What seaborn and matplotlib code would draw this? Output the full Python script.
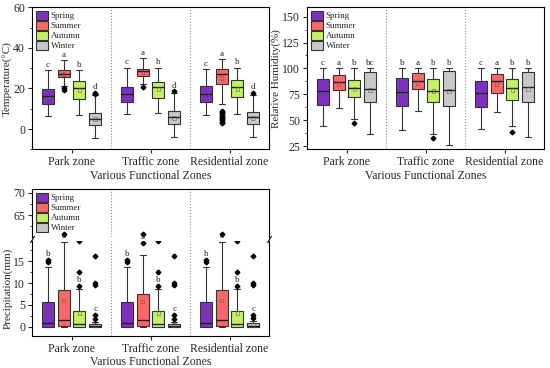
import itertools
import pandas as pd
import matplotlib
matplotlib.use('Agg')
import matplotlib.pyplot as plt
import seaborn as sns
from matplotlib.ticker import MultipleLocator, FixedLocator

# categories
zones = ['Park zone', 'Traffic zone', 'Residential zone']
seasons = ['Spring', 'Summer', 'Autumn', 'Winter']
colors = ['#8030c0', '#ff6666', '#c4f064', '#c8c8c8']

# order of every list below: park(sp,su,au,wi), traffic(...), residential(...)
# temperature (C)
temp_lo = [6.2, 21.3, 7.0, -4.3, 7.5, 22.0, 7.9, -3.9, 6.9, 12.5, 7.5, -3.9]
temp_q1 = [12.5, 25.4, 14.8, 1.8, 13.1, 26.2, 15.1, 2.3, 13.1, 22.0, 15.7, 2.6]
temp_med = [16.1, 27.3, 20.2, 4.9, 17.2, 28.4, 20.7, 5.9, 17.2, 27.2, 20.5, 5.7]
temp_q3 = [19.8, 28.9, 23.6, 7.9, 20.7, 29.8, 23.3, 8.7, 21.3, 29.7, 24.1, 8.4]
temp_hi = [28.9, 33.9, 28.9, 16.9, 30.0, 34.9, 30.0, 17.7, 29.5, 34.4, 30.0, 17.0]
temp_fliers = [[], [20.0, 19.3], [], [17.4, 18.0],
               [], [20.5], [], [18.5],
               [], [3.0, 3.6, 4.2, 4.8, 5.4, 6.0, 6.6, 7.2, 7.8, 8.4, 9.0], [], [17.8]]
temp_mean = [16.5, 27.0, 19.3, 5.0, 17.0, 28.0, 19.8, 5.5, 17.0, 25.0, 19.8, 5.5]
temp_letters = ['c', 'a', 'b', 'd', 'c', 'a', 'b', 'd', 'c', 'a', 'b', 'd']

# relative humidity (%)
hum_lo = [44.2, 62.3, 51.6, 37.1, 41.0, 58.7, 37.0, 26.1, 42.0, 58.0, 44.2, 33.9]
hum_q1 = [65.2, 79.0, 72.6, 67.4, 63.5, 80.0, 67.7, 63.5, 62.9, 76.8, 69.7, 67.7]
hum_med = [78.4, 87.1, 81.6, 79.7, 77.4, 87.7, 78.0, 79.0, 76.5, 87.7, 81.6, 81.9]
hum_q3 = [89.4, 93.9, 88.7, 96.5, 91.0, 95.2, 89.7, 97.4, 87.7, 94.2, 89.7, 96.8]
hum_hi = [100, 100, 100, 100, 100, 100, 100, 100, 100, 100, 100, 100]
hum_fliers = [[], [], [47.4], [], [], [], [33.2], [], [], [], [39.0], []]
hum_mean = [77, 85, 80, 79, 77, 86, 78, 78, 75, 85, 79, 80]
hum_letters = ['c', 'a', 'b', 'bc', 'b', 'a', 'b', 'b', 'c', 'a', 'b', 'b']

# precipitation (mm)
prec_lo = [0.0, 0.0, 0.0, 0.0, 0.0, 0.0, 0.0, 0.0, 0.0, 0.0, 0.0, 0.0]
prec_q1 = [0.1, 0.2, 0.05, 0.05, 0.1, 0.2, 0.05, 0.05, 0.1, 0.2, 0.05, 0.05]
prec_med = [0.8, 1.6, 0.7, 0.2, 0.8, 1.5, 0.7, 0.2, 0.8, 1.6, 0.7, 0.2]
prec_q3 = [5.7, 8.4, 3.7, 0.7, 5.7, 7.4, 3.7, 0.7, 5.7, 8.4, 3.7, 0.8]
prec_hi = [13.6, 19.3, 8.6, 1.2, 13.6, 16.3, 8.6, 1.2, 13.6, 19.3, 8.6, 1.3]
prec_fliers = [[14.8, 15.2], [60.8], [9.3, 12.6, 19.5], [1.8, 2.7, 9.5, 10.0, 16.1],
               [14.8, 15.2], [19.2, 60.8], [9.3, 12.6, 19.5], [1.8, 2.7, 9.5, 10.0, 16.1],
               [14.8, 15.2], [60.8], [9.3, 12.6, 19.5], [2.0, 2.8, 9.5, 10.0, 16.1]]
prec_mean = [3.6, 6.0, 3.2, 0.5, 3.6, 5.8, 3.2, 0.5, 3.6, 6.0, 3.2, 0.5]
prec_letters = ['b', 'a', 'b', 'c', 'b', 'a', 'b', 'c', 'b', 'a', 'b', 'c']


def fake_sample(lo, q1, med, q3, hi, fliers):
    # only the summary stats are known, so build a sample that has exactly those
    # quartiles / whiskers / outliers (4k+1 points -> quartiles land on samples)
    low = sorted(f for f in fliers if f < q1) + [lo]
    high = [hi] + sorted(f for f in fliers if f > q3)
    k = max(len(low), len(high))
    return (low + [q1] * (k + 1 - len(low)) + [med] * k + [q3] * k
            + [q3] * (k - len(high)) + high)


def long_table(lo, q1, med, q3, hi, fliers):
    rows = []
    for i, (z, s) in enumerate(itertools.product(zones, seasons)):
        for v in fake_sample(lo[i], q1[i], med[i], q3[i], hi[i], fliers[i]):
            rows.append((z, s, v))
    return pd.DataFrame(rows, columns=['zone', 'season', 'value'])


def mean_table(means):
    rows = [(z, s, means[i]) for i, (z, s) in enumerate(itertools.product(zones, seasons))]
    return pd.DataFrame(rows, columns=['zone', 'season', 'value'])


def label_top(hi, fliers, gap=3.0):
    # letter goes over the whisker and the outliers sitting right above it
    top = hi
    for f in sorted(f for f in fliers if f > hi):
        if f - top <= gap:
            top = f
    return top


def draw_boxes(ax, df, legend):
    sns.boxplot(data=df, x='zone', y='value', hue='season', order=zones,
                hue_order=seasons, palette=colors, saturation=1, width=0.8, gap=0.25,
                linewidth=0.8, linecolor='#333333', fliersize=2.4,
                flierprops=dict(marker='D', markerfacecolor='black', markeredgecolor='black'),
                medianprops=dict(color='#1e1e1e', linewidth=1.0),
                legend=legend, ax=ax)


def draw_means(ax, means):
    n0 = len(ax.collections)
    sns.stripplot(data=mean_table(means), x='zone', y='value', hue='season',
                  order=zones, hue_order=seasons, dodge=True, jitter=False,
                  marker='s', size=2.6, palette=['#555555'] * 4, legend=False, ax=ax)
    for c in ax.collections[n0:]:
        c.set_facecolor('none')
        c.set_edgecolor('#555555')
        c.set_linewidth(0.5)
        c.set_alpha(0.7)


def draw_letters(ax, hi, fliers, letters):
    for i, letter in enumerate(letters):
        x = i // 4 - 0.3 + 0.2 * (i % 4)
        ax.annotate(letter, (x, label_top(hi[i], fliers[i])), xytext=(0, 1.2),
                    textcoords='offset points', ha='center', va='bottom',
                    fontsize=6.5, color='#222222', annotation_clip=False)


def style_axis(ax):
    for sp in ax.spines.values():
        sp.set_color('black')
        sp.set_linewidth(0.8)
    ax.tick_params(which='major', direction='out', length=3, width=0.8, labelsize=8.5, pad=2)
    ax.tick_params(which='minor', direction='out', length=1.8, width=0.6)
    ax.set_xlim(-0.5, 2.5)
    for xv in [0.5, 1.5]:
        ax.axvline(xv, color='#888888', ls=':', lw=0.8, zorder=0)


def style_legend(ax):
    sns.move_legend(ax, 'upper left', title=None, frameon=False, fontsize=6.5,
                    handlelength=1.35, handleheight=1.15, labelspacing=0.05,
                    handletextpad=0.3, borderpad=0.1, borderaxespad=0.3)


sns.set_style('ticks')
plt.rcParams['font.family'] = ['Liberation Serif', 'DejaVu Serif']

fig = plt.figure(figsize=(5.5, 3.68), dpi=100)

# temperature panel
ax_t = fig.add_axes([32 / 550, 1 - 149.3 / 368, 237 / 550, 142 / 368])
draw_boxes(ax_t, long_table(temp_lo, temp_q1, temp_med, temp_q3, temp_hi, temp_fliers), True)
draw_means(ax_t, temp_mean)
draw_letters(ax_t, temp_hi, temp_fliers, temp_letters)
style_axis(ax_t)
style_legend(ax_t)
ax_t.set_ylim(-10, 60)
ax_t.yaxis.set_major_locator(MultipleLocator(20))
ax_t.yaxis.set_minor_locator(MultipleLocator(10))
ax_t.set_ylabel('Temperature(°C)', fontsize=8, labelpad=0.5)
ax_t.set_xlabel('Various Functional Zones', fontsize=8.5, labelpad=1)

# humidity panel
ax_h = fig.add_axes([307 / 550, 1 - 149.3 / 368, 237 / 550, 142 / 368])
draw_boxes(ax_h, long_table(hum_lo, hum_q1, hum_med, hum_q3, hum_hi, hum_fliers), True)
draw_means(ax_h, hum_mean)
draw_letters(ax_h, hum_hi, hum_fliers, hum_letters)
style_axis(ax_h)
style_legend(ax_h)
ax_h.set_ylim(22, 159)
ax_h.yaxis.set_major_locator(MultipleLocator(25))
ax_h.yaxis.set_minor_locator(MultipleLocator(12.5))
ax_h.set_ylabel('Relative Humidity(%)', fontsize=8, labelpad=0.5)
ax_h.set_xlabel('Various Functional Zones', fontsize=8.5, labelpad=1)

# precipitation panel, broken y axis (upper part only holds the big outliers)
prec_df = long_table(prec_lo, prec_q1, prec_med, prec_q3, prec_hi, prec_fliers)
ax_pt = fig.add_axes([32 / 550, 1 - 237.5 / 368, 237 / 550, 48.2 / 368])
ax_pb = fig.add_axes([32 / 550, 1 - 336 / 368, 237 / 550, 95 / 368])

draw_boxes(ax_pt, prec_df, True)
style_axis(ax_pt)
style_legend(ax_pt)
ax_pt.set_ylim(59.98, 70.76)
ax_pt.yaxis.set_major_locator(FixedLocator([65, 70]))
ax_pt.yaxis.set_minor_locator(FixedLocator([62.5, 67.5]))
ax_pt.spines['bottom'].set_visible(False)
ax_pt.tick_params(axis='x', which='both', bottom=False, labelbottom=False)
ax_pt.set_xlabel('')
ax_pt.set_ylabel('')

draw_boxes(ax_pb, prec_df, False)
draw_means(ax_pb, prec_mean)
draw_letters(ax_pb, prec_hi, prec_fliers, prec_letters)
style_axis(ax_pb)
ax_pb.set_ylim(-2.05, 19.55)
ax_pb.yaxis.set_major_locator(MultipleLocator(5))
ax_pb.yaxis.set_minor_locator(MultipleLocator(2.5))
ax_pb.spines['top'].set_visible(False)
ax_pb.set_xlabel('Various Functional Zones', fontsize=8.5, labelpad=1)
ax_pb.set_ylabel('Precipitation(mm)', fontsize=8, labelpad=0.5)

# break marks on both spines
ax_pb.plot([0, 1], [1.018, 1.018], transform=ax_pb.transAxes,
           marker=[(-0.6, -1), (0.6, 1)], markersize=5, linestyle='none',
           color='black', mec='black', mew=0.8, clip_on=False)

fig.savefig('out.png', dpi=100)
